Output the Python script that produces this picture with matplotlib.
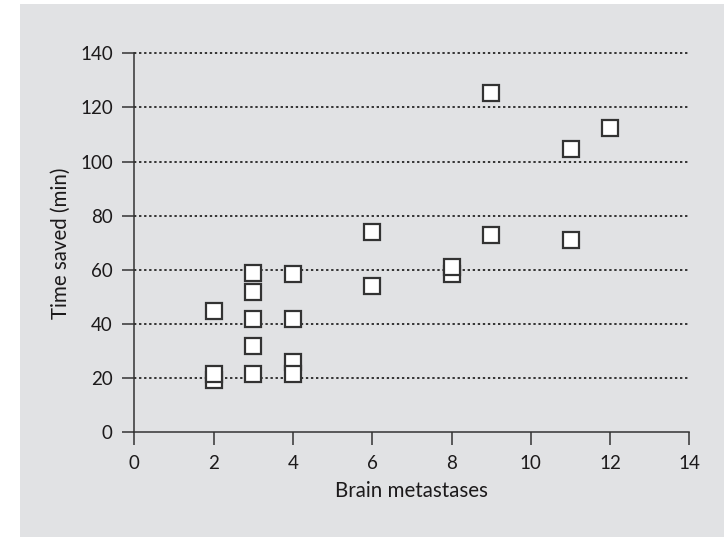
import matplotlib
matplotlib.use("Agg")
import matplotlib.pyplot as plt
from matplotlib.patches import Rectangle

# Number of brain metastases per case and the planning time saved (minutes)
metastases = [2, 2, 2, 3, 3, 3, 3, 3, 4, 4, 4, 4, 6, 6, 8, 8, 9, 9, 11, 11, 12]
time_saved = [45, 19.5, 21.5, 59, 52, 42, 32, 21.5, 58.5, 42, 26, 21.5,
              74, 54, 58.5, 61, 125.5, 73, 104.5, 71, 112.5]

x_ticks = [0, 2, 4, 6, 8, 10, 12, 14]
y_ticks = [0, 20, 40, 60, 80, 100, 120, 140]
x_label = "Brain metastases"
y_label = "Time saved (min)"

plt.rcParams["font.family"] = ["Lato", "DejaVu Sans"]
text_color = "#1c1a1b"
panel_color = "#e1e2e4"
tick_size = 13.5
label_size = 14.8

fig = plt.figure(figsize=(7.24, 5.37), dpi=100)
fig.patch.set_facecolor("white")
fig.add_artist(Rectangle((20 / 724, 0), 1 - 20 / 724, 533 / 537,
                         transform=fig.transFigure, facecolor=panel_color,
                         edgecolor="none", zorder=-10))

ax = fig.add_axes([0.1855, 0.1946, 0.7668, 0.7061])
ax.set_facecolor("none")

ax.set_xlim(0, 14)
ax.set_ylim(0, 140)
ax.set_xticks(x_ticks)
ax.set_yticks(y_ticks)

# dotted horizontal grid lines (no line at zero; the axis sits there)
for y in y_ticks[1:]:
    ax.axhline(y, color="#333333", linewidth=1.4, linestyle=(0, (1.2, 1.4)),
               zorder=1, clip_on=False)

ax.plot(metastases, time_saved, linestyle="none", marker="s", markersize=11,
        markerfacecolor="white", markeredgecolor="#333333",
        markeredgewidth=1.6, zorder=3, clip_on=False)

for side in ("top", "right"):
    ax.spines[side].set_visible(False)
for side in ("left", "bottom"):
    ax.spines[side].set_color("#333333")
    ax.spines[side].set_linewidth(1.1)

ax.tick_params(axis="both", direction="out", length=9, width=1.1,
               color="#333333", labelsize=tick_size, labelcolor=text_color)
ax.tick_params(axis="y", pad=6.5)
ax.tick_params(axis="x", pad=7.5)

ax.set_xlabel(x_label, fontsize=label_size, color=text_color, labelpad=6)
ax.set_ylabel(y_label, fontsize=label_size, color=text_color, labelpad=6.5)

fig.savefig("out.png", dpi=100)
